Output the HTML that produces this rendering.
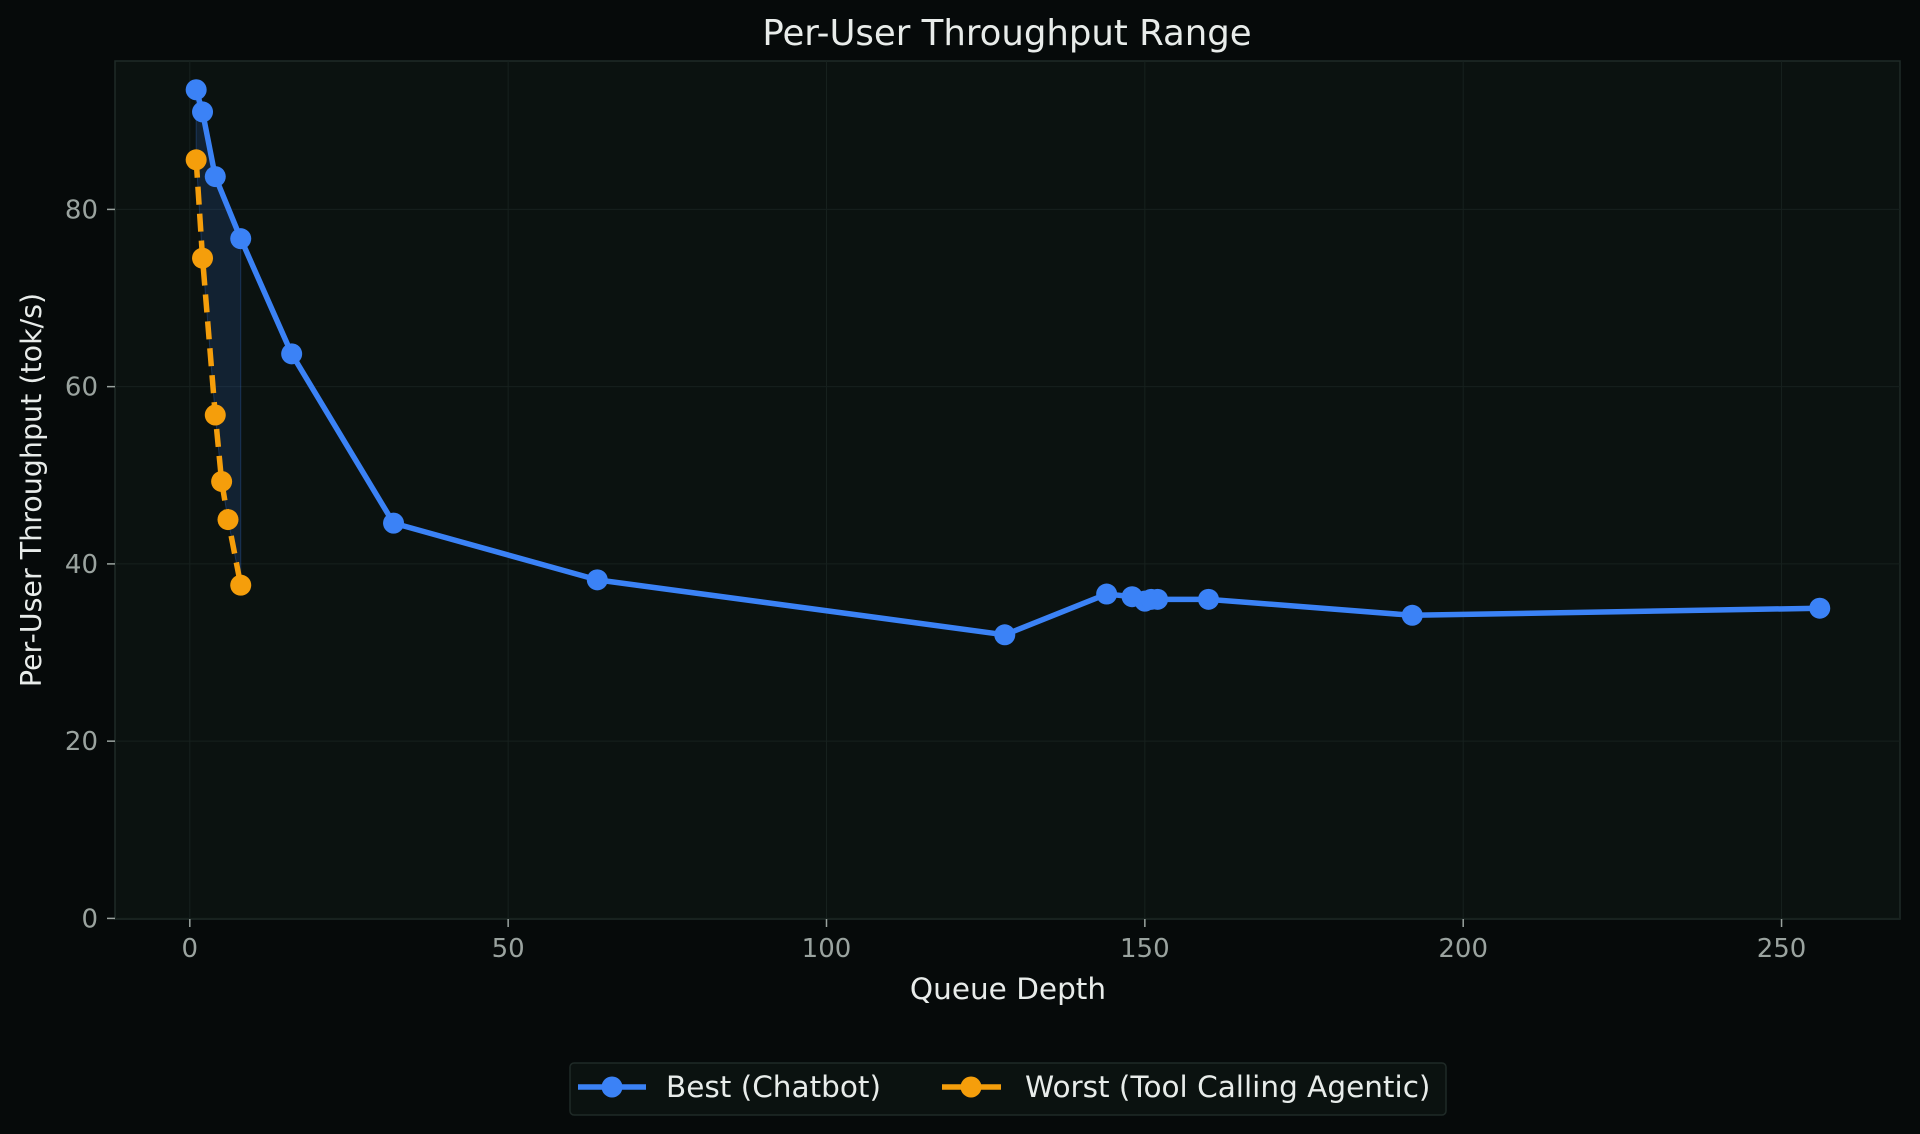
<!DOCTYPE html>
<html><head><meta charset="utf-8"><style>
html,body{margin:0;padding:0;background:#060a0a;}
svg{display:block;}
text{font-family:"DejaVu Sans","Liberation Sans",sans-serif;}
</style></head><body>
<svg id="c" width="1920" height="1134" xmlns="http://www.w3.org/2000/svg">
<rect width="1920" height="1134" fill="#060a0a"/>
<rect x="115" y="61" width="1785" height="858" fill="#0b1210" stroke="#1f2a27" stroke-width="1.5"/>
<g id="grid" stroke="#17211e" stroke-width="1"></g>
<g id="ticks" fill="#9aa39f" font-size="26"></g>
<g id="plot"></g>
<text x="1007" y="45" fill="#e8ecea" font-size="35.5" text-anchor="middle">Per-User Throughput Range</text>
<text x="1008" y="999" fill="#e8ecea" font-size="29.5" text-anchor="middle">Queue Depth</text>
<text transform="translate(41,490) rotate(-90)" fill="#e8ecea" font-size="28.5" text-anchor="middle">Per-User Throughput (tok/s)</text>
<rect x="570" y="1063" width="876" height="52" rx="4" fill="#0b1210" stroke="#1f2a27" stroke-width="1.5"/>
<line x1="578" y1="1087" x2="646" y2="1087" stroke="#3b82f6" stroke-width="5.5"/>
<circle cx="612" cy="1087" r="10.5" fill="#3b82f6"/>
<text x="666" y="1097" fill="#e8ecea" font-size="29.5">Best (Chatbot)</text>
<line x1="942" y1="1087" x2="1001" y2="1087" stroke="#f59e0b" stroke-width="5.5"/>
<circle cx="971" cy="1087" r="10.5" fill="#f59e0b"/>
<text x="1025" y="1097" fill="#e8ecea" font-size="29.5">Worst (Tool Calling Agentic)</text>
</svg>
<script>
var X=function(v){return 189.8+6.367*v;},Y=function(v){return 918.4-8.8625*v;};
var ns="http://www.w3.org/2000/svg";
function el(p,t,a){var e=document.createElementNS(ns,t);for(var k in a)e.setAttribute(k,a[k]);p.appendChild(e);return e;}
var g=document.getElementById('grid'),tk=document.getElementById('ticks'),pl=document.getElementById('plot');
[0,50,100,150,200,250].forEach(function(v){var x=X(v);el(g,'line',{x1:x,y1:61,x2:x,y2:919});
el(tk,'line',{x1:x,y1:919,x2:x,y2:927,stroke:'#9aa39f','stroke-width':1.5});
var t=el(tk,'text',{x:x,y:957,'text-anchor':'middle'});t.textContent=v;});
[0,20,40,60,80].forEach(function(v){var y=Y(v);el(g,'line',{x1:115,y1:y,x2:1900,y2:y});
el(tk,'line',{x1:107,y1:y,x2:115,y2:y,stroke:'#9aa39f','stroke-width':1.5});
var t=el(tk,'text',{x:98,y:y+9,'text-anchor':'end'});t.textContent=v;});
var B=[[1,93.5],[2,91],[4,83.7],[8,76.7],[16,63.7],[32,44.6],[64,38.2],[128,32],[144,36.6],[148,36.3],[150,35.8],[151,36],[152,36],[160,36],[192,34.2],[256,35]];
var O=[[1,85.6],[2,74.5],[4,56.8],[5,49.3],[6,45],[8,37.6]];
function bi(x){for(var i=0;i<B.length-1;i++){if(x>=B[i][0]&&x<=B[i+1][0]){var t=(x-B[i][0])/(B[i+1][0]-B[i][0]);return B[i][1]+t*(B[i+1][1]-B[i][1]);}}return B[0][1];}
var fp=[];O.forEach(function(p){fp.push(X(p[0])+','+Y(bi(p[0])));});
for(var i=O.length-1;i>=0;i--)fp.push(X(O[i][0])+','+Y(O[i][1]));
el(pl,'polygon',{points:fp.join(' '),fill:'#3b82f6','fill-opacity':0.15,stroke:'#3b82f6','stroke-opacity':0.25});
function pts(a){return a.map(function(p){return X(p[0])+','+Y(p[1]);}).join(' ');}
el(pl,'polyline',{points:pts(B),fill:'none',stroke:'#3b82f6','stroke-width':5.5,'stroke-linejoin':'round'});
el(pl,'polyline',{points:pts(O),fill:'none',stroke:'#f59e0b','stroke-width':5.5,'stroke-dasharray':'18 9'});
B.forEach(function(p){el(pl,'circle',{cx:X(p[0]),cy:Y(p[1]),r:10.5,fill:'#3b82f6'});});
O.forEach(function(p){el(pl,'circle',{cx:X(p[0]),cy:Y(p[1]),r:10.5,fill:'#f59e0b'});});
</script>
</body></html>
